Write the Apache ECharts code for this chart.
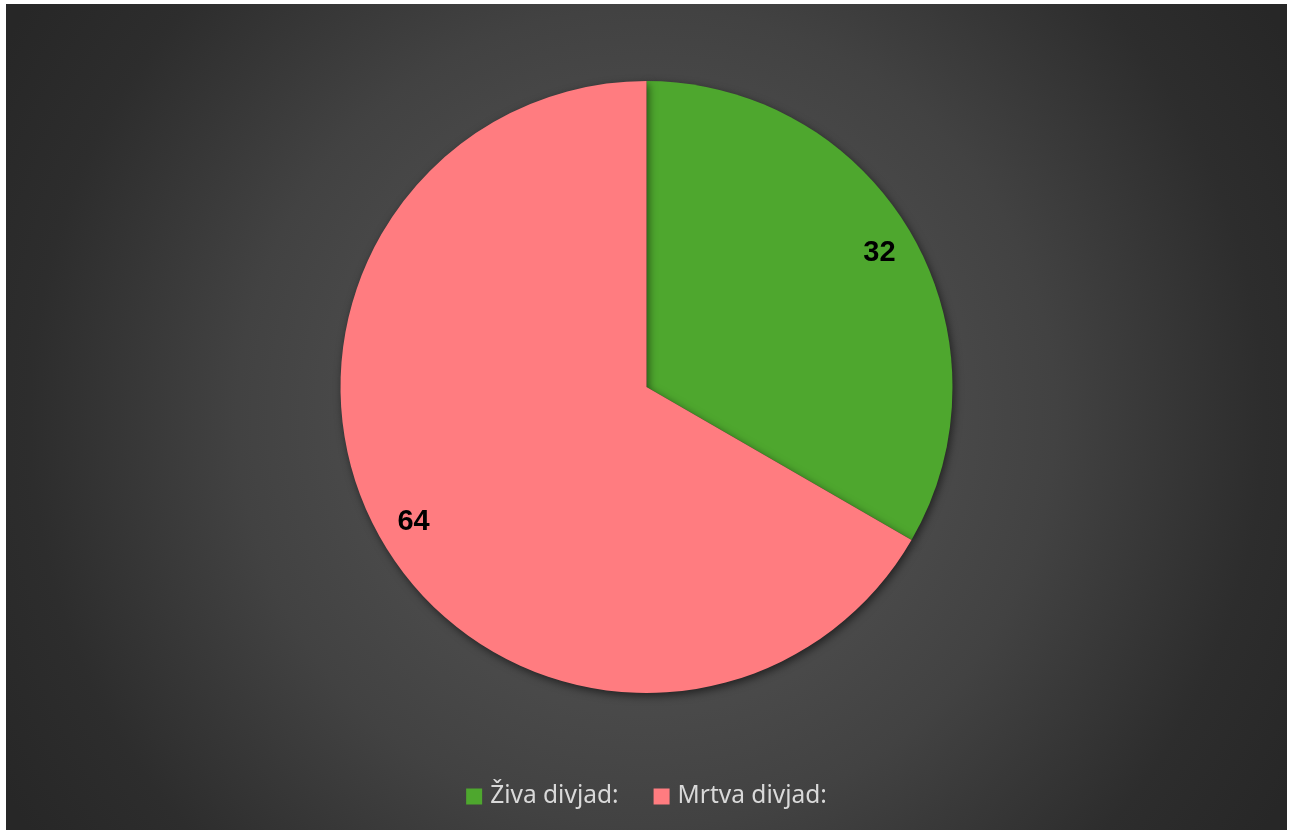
<!DOCTYPE html>
<html>
<head>
<meta charset="utf-8">
<script src="https://cdn.jsdelivr.net/npm/echarts@6/dist/echarts.min.js"></script>
<style>
  html, body { margin: 0; padding: 0; background: #fff; }
  #chart { position: absolute; left: 6px; top: 4px; width: 1281px; height: 826px; }
</style>
</head>
<body>
<div id="chart"></div>
<script>
// podatki
const names = ['Živa divjad:', 'Mrtva divjad:']
const values = [32, 64]
const colors = ['#4ea72e', '#ff7c80']

const pieData = names.map((n, i) => ({ name: n, value: values[i], itemStyle: { color: colors[i] } }))
// isti podatki za sloj z oznakami, brez barve
const labelData = names.map((n, i) => ({ name: n, value: values[i], itemStyle: { color: 'transparent' } }))

const chart = echarts.init(document.getElementById('chart'))

chart.setOption({
  backgroundColor: {
    type: 'radial', x: 0.5, y: 0.5, r: 0.9,
    colorStops: [
      { offset: 0, color: '#555555' },
      { offset: 0.4, color: '#494949' },
      { offset: 0.55, color: '#424242' },
      { offset: 0.83, color: '#2d2d2d' },
      { offset: 1, color: '#272727' },
    ],
  },
  legend: {
    data: names,
    bottom: 16,
    left: 'center',
    icon: 'rect',
    itemWidth: 16,
    itemHeight: 16,
    itemGap: 35,
    textStyle: { color: '#d9d9d9', fontSize: 24.5, fontFamily: 'Noto Sans', padding: [0, 0, 0, 3] },
  },
  series: [
    {
      type: 'pie',
      center: ['50%', 383],
      radius: [0, 306],
      startAngle: 90,
      clockwise: true,
      silent: true,
      label: { show: false },
      labelLine: { show: false },
      itemStyle: {
        shadowBlur: 8,
        shadowColor: 'rgba(0,0,0,0.55)',
        shadowOffsetX: 2,
        shadowOffsetY: 3,
      },
      data: pieData,
    },
    {
      // samo oznake, postavljene bližje robu
      type: 'pie',
      center: ['50%', 383],
      radius: [226, 306],
      startAngle: 90,
      clockwise: true,
      silent: true,
      legendHoverLink: false,
      label: {
        show: true,
        position: 'inside',
        formatter: '{c}',
        color: '#000',
        fontSize: 29,
        fontWeight: 'bold',
        fontFamily: 'Liberation Sans',
      },
      labelLine: { show: false },
      data: labelData,
    },
  ],
})
</script>
</body>
</html>
